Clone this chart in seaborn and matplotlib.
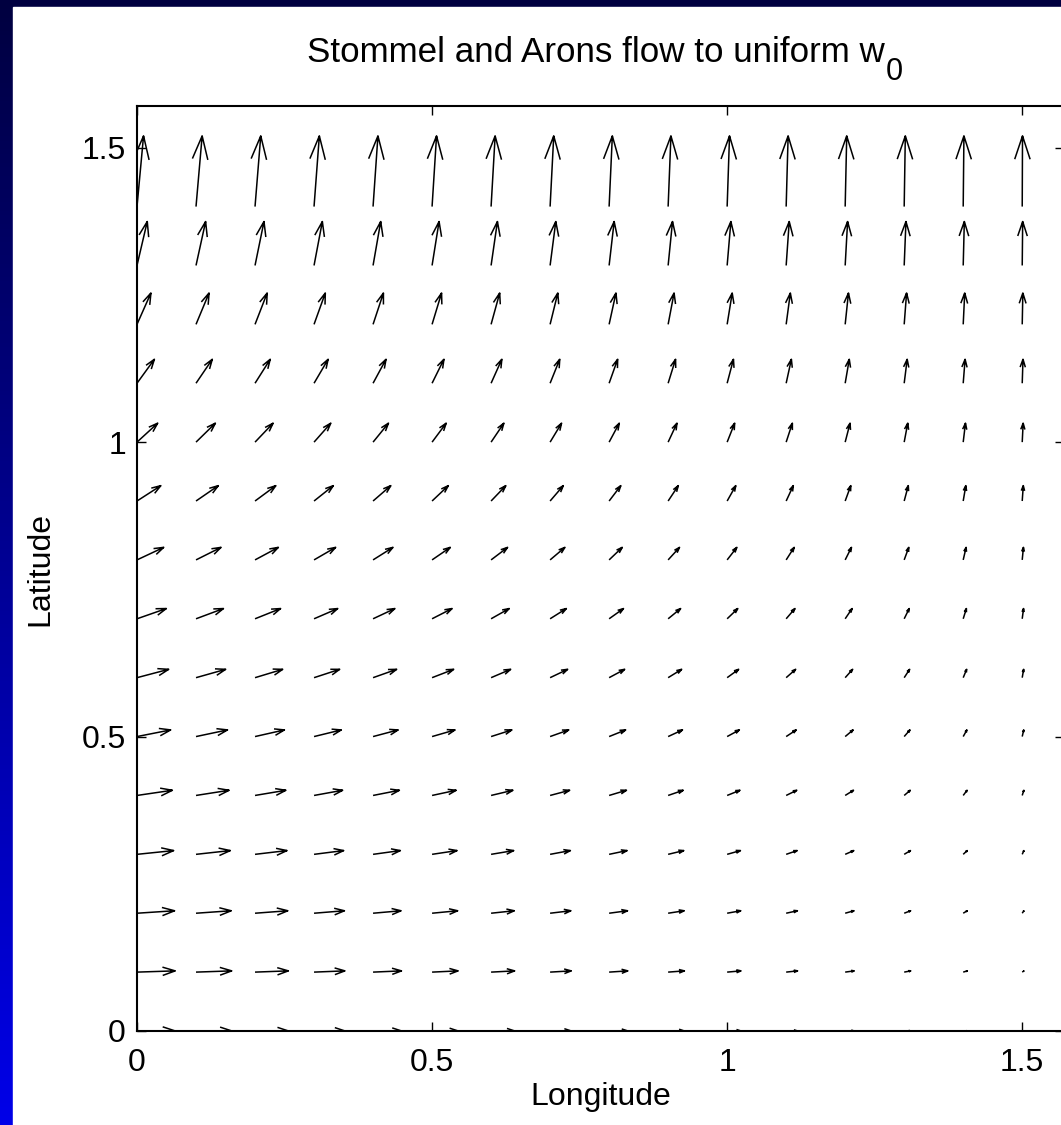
import numpy as np
import pandas as pd
import matplotlib
matplotlib.use("Agg")
import matplotlib.pyplot as plt
from matplotlib.patches import Rectangle
import seaborn as sns

# ---------------- data ----------------
lon = [0.0, 0.1, 0.2, 0.3, 0.4, 0.5, 0.6, 0.7, 0.8, 0.9, 1.0, 1.1, 1.2, 1.3, 1.4, 1.5]
lat = [0.0, 0.1, 0.2, 0.3, 0.4, 0.5, 0.6, 0.7, 0.8, 0.9, 1.0, 1.1, 1.2, 1.3, 1.4]
# northward component for each latitude row (same along a row)
v_row = [0.0, 0.0021, 0.0042, 0.0064, 0.0088, 0.0113, 0.0142, 0.0174, 0.0213,
         0.0261, 0.0322, 0.0407, 0.0532, 0.0746, 0.1200]
# eastward component at the western edge for each latitude row
u_west = [0.0650, 0.0647, 0.0637, 0.0621, 0.0599, 0.0571, 0.0537, 0.0497, 0.0453,
          0.0404, 0.0351, 0.0295, 0.0236, 0.0174, 0.0111]
# relative size of the eastward component across longitude columns
u_col = [1.000, 0.936, 0.873, 0.809, 0.745, 0.682, 0.618, 0.554, 0.491, 0.427,
         0.363, 0.300, 0.236, 0.172, 0.109, 0.045]
tick_vals = [0, 0.5, 1, 1.5]
tick_labels = ["0", "0.5", "1", "1.5"]
title_main = "Stommel and Arons flow to uniform w"
title_sub = "0"
xlabel = "Longitude"
ylabel = "Latitude"

rows = []
for j, y in enumerate(lat):
    for i, x in enumerate(lon):
        rows.append({"x": x, "y": y, "u": u_west[j] * u_col[i], "v": v_row[j]})
df = pd.DataFrame(rows)

# ---------------- style ----------------
sns.set_theme(style="ticks")
plt.rcParams["font.family"] = ["Liberation Sans", "DejaVu Sans"]

W, H = 1061, 1125
fig = plt.figure(figsize=(W / 100, H / 100), dpi=100)
fig.patch.set_facecolor("white")

# slide background: vertical navy->blue gradient with white panel
bg = fig.add_axes([0, 0, 1, 1], zorder=-10)
grad = np.linspace(0, 1, 256).reshape(-1, 1)
top_c = np.array([0, 0, 64]) / 255
bot_c = np.array([0, 0, 232]) / 255
img = top_c[None, None, :] * (1 - grad[:, :, None]) + bot_c[None, None, :] * grad[:, :, None]
bg.imshow(img, aspect="auto", extent=[0, 1, 0, 1], origin="upper")
bg.add_patch(Rectangle((13 / W, 0), 1, (H - 7) / H, color="white", transform=bg.transAxes))
bg.set_xlim(0, 1)
bg.set_ylim(0, 1)
bg.axis("off")

# main axes (right edge runs slightly past the image)
left = 137 / W
right = 1064 / W
bottom = (H - 1031) / H
top = (H - 106) / H
ax = fig.add_axes([left, bottom, right - left, top - bottom])
ax.set_facecolor("white")

# arrows in MATLAB quiver style: shaft + open head
alpha, beta = 0.33, 0.33
xs, ys = [], []
for _, r in df.iterrows():
    x0, y0, u, v = r["x"], r["y"], r["u"], r["v"]
    x1, y1 = x0 + u, y0 + v
    xs += [x0, x1, np.nan]
    ys += [y0, y1, np.nan]
    hx = [x1 - alpha * (u + beta * v), x1, x1 - alpha * (u - beta * v)]
    hy = [y1 - alpha * (v - beta * u), y1, y1 - alpha * (v + beta * u)]
    xs += hx + [np.nan]
    ys += hy + [np.nan]
ax.plot(xs, ys, color="black", lw=1.1, solid_capstyle="butt")

ax.set_xlim(0, np.pi / 2)
ax.set_ylim(0, np.pi / 2)
ax.set_xticks(tick_vals)
ax.set_xticklabels(tick_labels)
ax.set_yticks(tick_vals)
ax.set_yticklabels(tick_labels)
for s in ax.spines.values():
    s.set_visible(True)
    s.set_linewidth(1.5)
    s.set_color("black")
ax.tick_params(direction="in", length=6.5, width=1.0, colors="black",
               top=True, right=True, labelsize=23)
ax.tick_params(axis="x", pad=12)
ax.tick_params(axis="y", pad=8)
ax.set_xlabel(xlabel, fontsize=23, labelpad=3, color="black")
ax.set_ylabel(ylabel, fontsize=23, labelpad=19, color="black")
ax.grid(False)

# title with a low MATLAB-style subscript
fig.text(885 / W, 1 - 62 / H, title_main, ha="right", va="baseline",
         fontsize=25.2, color="black")
fig.text(886 / W, 1 - 80 / H, title_sub, ha="left", va="baseline",
         fontsize=22, color="black")

fig.savefig("out.png", dpi=100, facecolor=fig.get_facecolor())
